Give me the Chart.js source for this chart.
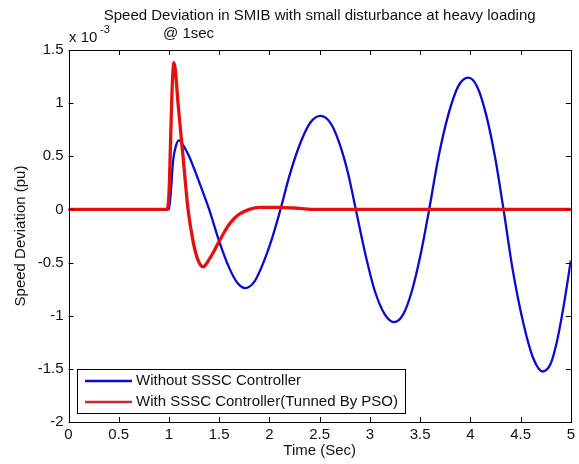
<!DOCTYPE html>
<html lang="en">
<head>
  <meta charset="UTF-8" />
  <title>Speed Deviation in SMIB</title>
  <script src="https://cdn.jsdelivr.net/npm/chart.js"></script>
  <style>
    body { margin: 0; background: #fff; }
    #wrap { width: 579px; height: 464px; }
  </style>
</head>
<body>
  <div id="wrap"><canvas id="speedChart" width="579" height="464"></canvas></div>

  <script>
    // values are in units of 1e-3 pu (axis shows "x 10^-3")
    const timeBlue = [0, 1.0, 1.02, 1.04, 1.07, 1.10, 1.15, 1.2, 1.3, 1.4, 1.5, 1.6, 1.68, 1.76, 1.85, 1.94, 2.03, 2.11,
      2.2, 2.31, 2.41, 2.51, 2.61, 2.69, 2.78, 2.86, 2.95, 3.05, 3.15, 3.24, 3.33, 3.42, 3.51, 3.59,
      3.68, 3.78, 3.88, 3.98, 4.07, 4.16, 4.25, 4.33, 4.42, 4.53, 4.63, 4.72, 4.80, 4.86, 4.93, 5.0];
    const speedBlue = [0, 0, 0.18, 0.45, 0.6, 0.65, 0.59, 0.5, 0.26, 0, -0.3, -0.55, -0.69, -0.74, -0.68, -0.5, -0.26, 0,
      0.32, 0.63, 0.82, 0.88, 0.81, 0.64, 0.35, 0, -0.4, -0.77, -0.99, -1.06, -0.99, -0.76, -0.4, 0,
      0.48, 0.89, 1.16, 1.24, 1.15, 0.88, 0.47, 0, -0.56, -1.08, -1.41, -1.525, -1.45, -1.25, -0.9, -0.48];

    const timeRed = [0, 0.98, 1.0, 1.015, 1.03, 1.05, 1.065, 1.09, 1.14, 1.19, 1.24, 1.29, 1.34, 1.4, 1.45, 1.5,
      1.55, 1.6, 1.65, 1.7, 1.8, 1.9, 2.1, 2.3, 2.45, 5.0];
    const speedRed = [0, 0, 0.15, 0.6, 1.1, 1.38, 1.3, 1.0, 0.5, 0, -0.3, -0.48, -0.54, -0.47, -0.39, -0.3,
      -0.215, -0.14, -0.085, -0.045, 0, 0.02, 0.02, 0.01, 0, 0];

    const seriesLabels = ["Without SSSC Controller", "With SSSC Controller(Tunned By PSO)"];
    const titleLines = ["Speed Deviation in SMIB with small disturbance at heavy loading", "@ 1sec"];

    const FONT = "'Liberation Sans', Arial, sans-serif";
    const toPoints = (xs, ys) => xs.map((x, i) => ({ x, y: ys[i] }));

    // inward ticks, box, legend and titles drawn MATLAB style
    const matlabFrame = {
      id: "matlabFrame",
      afterDraw(chart) {
        const ctx = chart.ctx;
        const a = chart.chartArea;
        const xs = chart.scales.x, ys = chart.scales.y;
        ctx.save();
        ctx.strokeStyle = "#000";
        ctx.lineWidth = 1;
        ctx.beginPath();
        xs.ticks.forEach(t => {
          const px = Math.round(xs.getPixelForValue(t.value)) + 0.5;
          ctx.moveTo(px, a.bottom); ctx.lineTo(px, a.bottom - 5);
          ctx.moveTo(px, a.top); ctx.lineTo(px, a.top + 5);
        });
        ys.ticks.forEach(t => {
          const py = Math.round(ys.getPixelForValue(t.value)) + 0.5;
          ctx.moveTo(a.left, py); ctx.lineTo(a.left + 5, py);
          ctx.moveTo(a.right, py); ctx.lineTo(a.right - 5, py);
        });
        ctx.stroke();
        ctx.strokeRect(Math.round(a.left) + 0.5, Math.round(a.top) + 0.5,
          Math.round(a.right - a.left), Math.round(a.bottom - a.top));

        // legend
        const lx = 77, ly = 369, lw = 328, lh = 44;
        ctx.fillStyle = "#fff";
        ctx.fillRect(lx, ly, lw, lh);
        ctx.strokeRect(lx + 0.5, ly + 0.5, lw, lh);
        ctx.font = "15px " + FONT;
        ctx.textBaseline = "middle";
        ctx.textAlign = "left";
        chart.data.datasets.forEach((ds, i) => {
          const y = ly + 12 + i * 21;
          ctx.strokeStyle = i === 0 ? ds.borderColor : "#c8282e";
          ctx.lineWidth = 2.5;
          ctx.beginPath();
          ctx.moveTo(85, y); ctx.lineTo(132, y);
          ctx.stroke();
          ctx.fillStyle = "#111";
          ctx.fillText(ds.label, 136, y);
        });

        // title and exponent
        ctx.fillStyle = "#111";
        ctx.textAlign = "center";
        ctx.fillText(titleLines[0], (a.left + a.right) / 2, 16);
        ctx.textAlign = "left";
        ctx.fillText(titleLines[1], 163, 34);
        ctx.fillText("x 10", 69, 38);
        ctx.font = "11px " + FONT;
        ctx.fillText("-3", 100, 30);
        ctx.restore();
      }
    };

    new Chart(document.getElementById("speedChart"), {
      type: "line",
      data: {
        datasets: [
          {
            label: seriesLabels[0],
            data: toPoints(timeBlue, speedBlue),
            borderColor: "#0a0ad0",
            borderWidth: 2.3,
            order: 2
          },
          {
            label: seriesLabels[1],
            data: toPoints(timeRed, speedRed),
            borderColor: "#e41010",
            borderWidth: 3.3,
            order: 1
          }
        ]
      },
      options: {
        responsive: false,
        animation: false,
        layout: { padding: { left: 0, right: 0, top: 50, bottom: 0 } },
        elements: {
          point: { radius: 0 },
          line: { cubicInterpolationMode: "monotone" }
        },
        plugins: {
          legend: { display: false },
          tooltip: { enabled: false }
        },
        scales: {
          x: {
            type: "linear",
            min: 0,
            max: 5,
            grid: { display: false, drawTicks: false },
            border: { display: false },
            ticks: { stepSize: 0.5, padding: 4, color: "#111", font: { family: FONT, size: 15 }, callback: v => String(v) },
            title: { display: true, text: "Time (Sec)", color: "#111", padding: { top: 6 }, font: { family: FONT, size: 15 } },
            afterFit: s => { s.height = 42; }
          },
          y: {
            min: -2,
            max: 1.5,
            grid: { display: false, drawTicks: false },
            border: { display: false },
            ticks: { stepSize: 0.5, padding: 5, color: "#111", font: { family: FONT, size: 15 }, callback: v => String(v) },
            title: { display: true, text: "Speed Deviation (pu)", color: "#111", padding: { top: 12 }, font: { family: FONT, size: 15 } },
            afterFit: s => { s.width = 68.5; }
          }
        }
      },
      plugins: [matlabFrame]
    });
  </script>
</body>
</html>
